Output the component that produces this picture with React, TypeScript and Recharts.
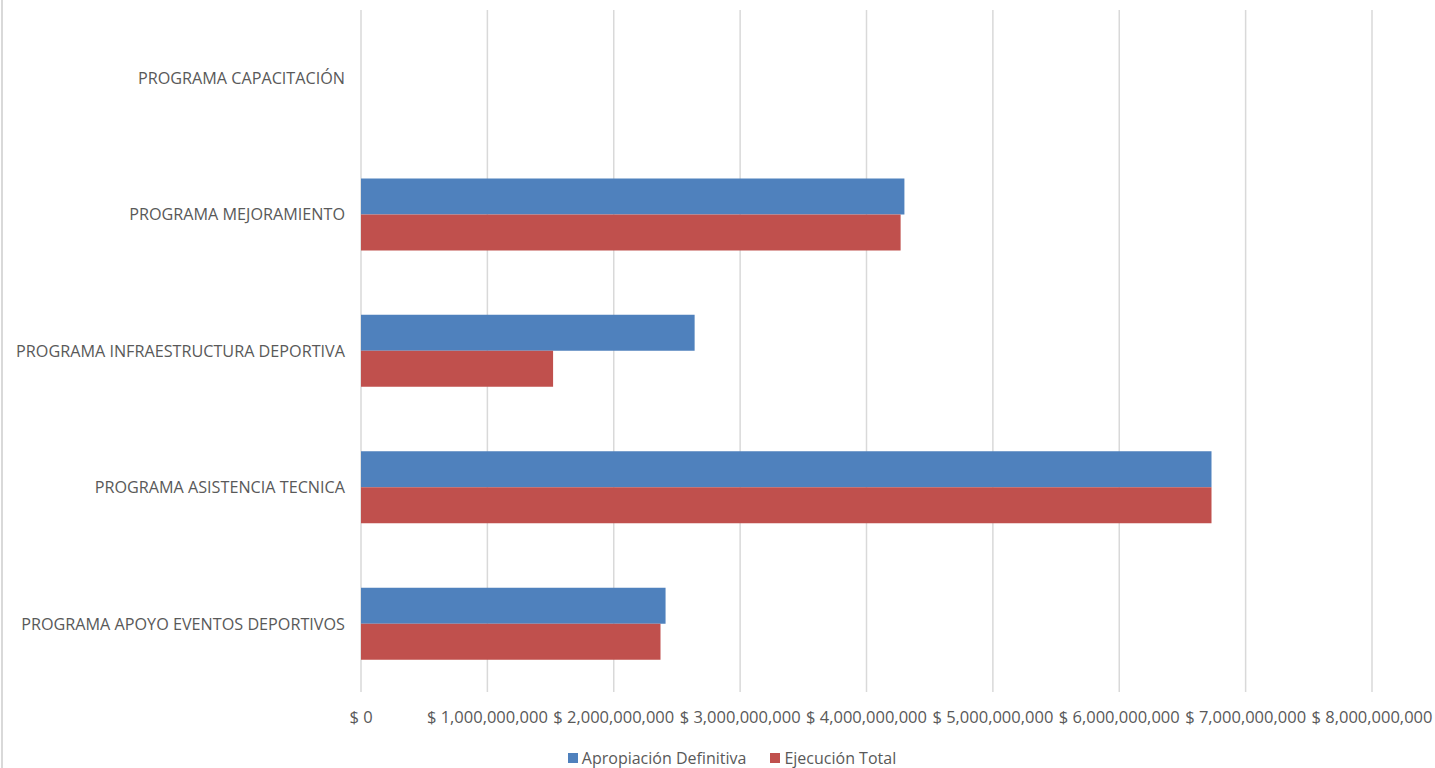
import React from "react";
import {
  Bar,
  BarChart,
  CartesianGrid,
  Legend,
  XAxis,
  YAxis,
} from "recharts";

const programas = [
  "PROGRAMA CAPACITACIÓN",
  "PROGRAMA MEJORAMIENTO",
  "PROGRAMA INFRAESTRUCTURA DEPORTIVA",
  "PROGRAMA ASISTENCIA TECNICA",
  "PROGRAMA APOYO EVENTOS DEPORTIVOS",
];

const apropiacion = [0, 4300000000, 2640000000, 6730000000, 2410000000];
const ejecucion = [0, 4270000000, 1520000000, 6730000000, 2370000000];

const xTicks = [
  0, 1000000000, 2000000000, 3000000000, 4000000000, 5000000000, 6000000000,
  7000000000, 8000000000,
];

const SERIES = [
  { key: "apropiacion", name: "Apropiación Definitiva", color: "#4F81BD" },
  { key: "ejecucion", name: "Ejecución Total", color: "#C0504D" },
];

const data = programas.map((programa, i) => ({
  programa,
  apropiacion: apropiacion[i],
  ejecucion: ejecucion[i],
}));

const FONT = "'Open Sans', sans-serif";
const TEXT = "#595959";

const formatMoney = (v: number) => "$ " + v.toLocaleString("en-US");

function LegendContent() {
  return (
    <div
      style={{
        display: "flex",
        justifyContent: "center",
        gap: 24,
        fontFamily: FONT,
        fontSize: 16,
        lineHeight: "20px",
        color: TEXT,
        paddingLeft: 92,
      }}
    >
      {SERIES.map((s) => (
        <span key={s.key} style={{ display: "flex", alignItems: "center" }}>
          <span
            style={{
              width: 10,
              height: 10,
              background: s.color,
              display: "inline-block",
              marginRight: 4,
            }}
          />
          {s.name}
        </span>
      ))}
    </div>
  );
}

export default function App() {
  return (
    <div
      style={{
        position: "absolute",
        left: 0,
        top: 0,
        width: 1435,
        height: 768,
        background: "#fff",
        overflow: "hidden",
      }}
    >
      <div
        style={{
          position: "absolute",
          left: 1,
          top: 0,
          width: 2,
          height: 768,
          background: "#D9D9D9",
        }}
      />
      <BarChart
        width={1435}
        height={768}
        data={data}
        layout="vertical"
        margin={{ top: 10, right: 63, bottom: 0, left: 0 }}
        barCategoryGap="23.5%"
        barGap={0}
      >
        <CartesianGrid horizontal={false} stroke="#D9D9D9" strokeWidth={1.5} />
        <XAxis
          type="number"
          domain={[0, 8000000000]}
          ticks={xTicks}
          tickFormatter={formatMoney}
          axisLine={false}
          tickLine={false}
          tickMargin={13}
          height={56}
          interval={0}
          tick={{ fill: TEXT, fontSize: 16.5, fontFamily: FONT }}
        />
        <YAxis
          type="category"
          dataKey="programa"
          width={361}
          axisLine={false}
          tickLine={false}
          tickMargin={10}
          tick={{ fill: TEXT, fontSize: 16.2, fontFamily: FONT }}
        />
        <Legend
          verticalAlign="bottom"
          height={20}
          content={<LegendContent />}
        />
        {SERIES.map((s) => (
          <Bar
            key={s.key}
            dataKey={s.key}
            name={s.name}
            fill={s.color}
            isAnimationActive={false}
          />
        ))}
      </BarChart>
    </div>
  );
}
